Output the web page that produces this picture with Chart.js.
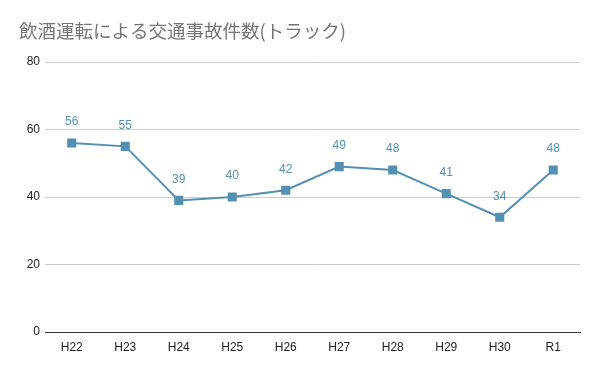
<!DOCTYPE html>
<html>
<head>
<meta charset="utf-8">
<script src="https://cdn.jsdelivr.net/npm/chart.js@4"></script>
<style>
  body { margin: 0; background: #fff; }
  #wrap { width: 600px; height: 371px; position: relative; }
</style>
</head>
<body>
<div id="wrap"><canvas id="chart"></canvas></div>
<script>
const titleText = "飲酒運転による交通事故件数(トラック)";
const years = ["H22", "H23", "H24", "H25", "H26", "H27", "H28", "H29", "H30", "R1"];
const accidents = [56, 55, 39, 40, 42, 49, 48, 41, 34, 48];
const yTicks = [0, 20, 40, 60, 80];

const lineColor = "#5390b3";

// タイトルを左上に描く
const titlePlugin = {
  id: "titleText",
  afterDraw(chart) {
    const ctx = chart.ctx;
    ctx.save();
    ctx.font = "18.5px 'Noto Sans CJK JP', sans-serif";
    ctx.fillStyle = "#757575";
    ctx.textBaseline = "middle";
    ctx.textAlign = "left";
    ctx.fillText(titleText, 19, 31);
    ctx.restore();
  },
};

// 点の上に値を表示
const valueLabels = {
  id: "valueLabels",
  afterDatasetsDraw(chart) {
    const ctx = chart.ctx;
    const meta = chart.getDatasetMeta(0);
    ctx.save();
    ctx.font = "12px 'Liberation Sans', Arial, sans-serif";
    ctx.fillStyle = lineColor;
    ctx.textAlign = "center";
    ctx.textBaseline = "middle";
    meta.data.forEach((pt, i) => {
      ctx.fillText(String(chart.data.datasets[0].data[i]), pt.x, pt.y - 21);
    });
    ctx.restore();
  },
};

const ctx = document.getElementById("chart").getContext("2d");
new Chart(ctx, {
  type: "line",
  data: {
    labels: years,
    datasets: [
      {
        data: accidents,
        borderColor: lineColor,
        backgroundColor: lineColor,
        borderWidth: 2,
        pointStyle: "rect",
        pointRadius: 5,
        pointBackgroundColor: lineColor,
        pointBorderColor: lineColor,
        tension: 0,
        fill: false,
      },
    ],
  },
  options: {
    responsive: true,
    maintainAspectRatio: false,
    animation: false,
    layout: {
      padding: { top: 62, right: 20, bottom: 13, left: 0 },
    },
    plugins: {
      legend: { display: false },
      tooltip: { enabled: false },
    },
    scales: {
      x: {
        offset: true,
        grid: { display: false, drawTicks: false },
        border: { color: "#333", width: 1 },
        ticks: {
          padding: 8,
          color: "#222",
          font: { size: 12, family: "'Liberation Sans', Arial, sans-serif" },
        },
        afterFit(scale) { scale.height = 26; },
      },
      y: {
        min: 0,
        max: 80,
        afterBuildTicks(scale) {
          scale.ticks = yTicks.map((v) => ({ value: v }));
        },
        grid: {
          color: (c) => (c.tick && c.tick.value === 0 ? "#333" : "#cccccc"),
          drawTicks: false,
        },
        border: { display: false },
        ticks: {
          padding: 5,
          color: "#222",
          font: { size: 12, family: "'Liberation Sans', Arial, sans-serif" },
        },
        afterFit(scale) { scale.width = 45; },
      },
    },
  },
  plugins: [titlePlugin, valueLabels],
});
</script>
</body>
</html>
